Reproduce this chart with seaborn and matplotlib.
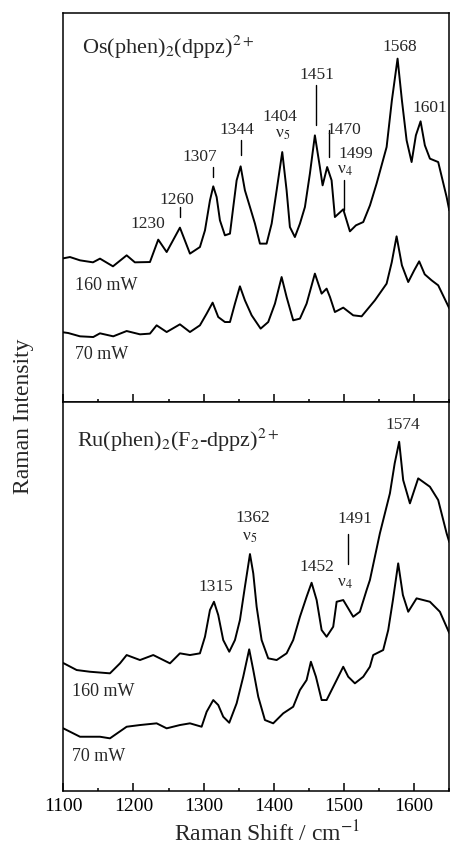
import pandas as pd
import matplotlib
matplotlib.use('Agg')
import matplotlib.pyplot as plt
import seaborn as sns
from matplotlib.ticker import MultipleLocator

# Values (x in cm-1, y in arbitrary units)
os_160_x = [1100, 1109.5, 1123.8, 1142.3, 1152.3, 1170.8, 1190.3, 1202, 1223.5, 1235.3,
            1247.3, 1266.2, 1280.5, 1294.7, 1301.9, 1309, 1313.7, 1318.5, 1323.2, 1330.3,
            1337.5, 1342.2, 1347, 1352.7, 1358.8, 1366, 1373.1, 1380.2, 1389.7, 1396.9,
            1404, 1412, 1418.2, 1422.9, 1430, 1437.2, 1444.3, 1451.4, 1458.5, 1465.6,
            1469.5, 1476, 1482.3, 1487, 1498.9, 1508.4, 1517, 1527.4, 1537, 1546.4,
            1560.7, 1568.2, 1576.3, 1582.5, 1589.2, 1596.3, 1602.4, 1609.1, 1615.2, 1622.4,
            1634.2, 1646.2, 1650]
os_160_y = [144, 145.3, 142, 140, 143.7, 136, 147, 140, 140.3, 162.7,
            150.3, 174.7, 148.7, 155.3, 172, 202, 216, 205.3, 182, 167,
            168.7, 195.3, 222, 236, 212, 195.3, 178.7, 158.7, 158.7, 178.7,
            212, 250.3, 212, 175.3, 165.3, 178.7, 195.3, 228.7, 267, 235.3,
            217, 235.3, 222, 185.3, 193, 171, 177, 180.3, 197, 218.7,
            255.3, 302, 343.7, 302, 262, 240.3, 267, 281, 257, 243.7,
            240.3, 205.3, 192]

os_70_x = [1100, 1107.1, 1123.8, 1142.7, 1152.3, 1171.2, 1190.3, 1209.3, 1223.5, 1233,
           1247.3, 1266.2, 1280.5, 1294.7, 1304.3, 1312.8, 1320.8, 1330.3, 1337.5, 1344.6,
           1351.7, 1358.8, 1368.4, 1381.2, 1392, 1401.6, 1411.1, 1418.2, 1427.6, 1437.2,
           1446.7, 1458.5, 1468.1, 1475.2, 1480, 1487, 1498.9, 1513.1, 1525.1, 1544,
           1560.7, 1568, 1574.9, 1582.5, 1591.5, 1600, 1607.1, 1615, 1624.8, 1634.2,
           1650]
os_70_y = [70, 69.3, 66, 65.3, 69, 66, 71.3, 68, 68.7, 77,
           70.3, 78, 70.3, 77, 88.7, 99.7, 85.3, 80.3, 80.3, 98.7,
           116, 102, 87, 73.7, 80.3, 98.7, 125.3, 105.3, 82, 83.7,
           98.7, 128.7, 108.7, 113.7, 105.3, 90.3, 94.7, 87, 86, 102,
           118.7, 140, 166, 137, 120.3, 132, 141, 128, 122, 117,
           94]

ru_160_x = [1100, 1119.1, 1138, 1166.5, 1180.8, 1190.3, 1209.3, 1228.2, 1252, 1266.2,
            1280.5, 1294.7, 1301.9, 1309, 1314.7, 1320.8, 1327.9, 1336.5, 1344.6, 1351.7,
            1358.8, 1366, 1370.7, 1375.5, 1382.6, 1392, 1404, 1418.2, 1427.6, 1437.2,
            1446.7, 1453.8, 1461, 1468.1, 1475.2, 1484.6, 1489.5, 1498.9, 1506, 1513.1,
            1522.6, 1532.2, 1536.9, 1551.1, 1565.4, 1572.2, 1578.6, 1584.3, 1593.9, 1605.7,
            1622.4, 1634.2, 1646.2, 1650]
ru_160_y = [128, 121, 119.3, 117.7, 127.7, 136, 131, 136, 127.7, 137.7,
            136, 137.7, 154.3, 181, 189.3, 176, 151, 139.3, 151, 171,
            204.3, 237, 217.7, 184.3, 151, 132.7, 131, 137.7, 151, 174.3,
            194.3, 208.3, 191, 161, 154.3, 164.3, 189.3, 191, 182.7, 174.3,
            179.3, 201, 211, 257.7, 297.7, 327.7, 349.3, 311, 287.7, 312.7,
            304.3, 291, 257.7, 249]

ru_70_x = [1100, 1123.8, 1152.3, 1166.5, 1190.3, 1209.3, 1233, 1247.3, 1266.2, 1280.5,
           1297.1, 1304.3, 1313.7, 1320.8, 1327.9, 1336.5, 1347, 1356.4, 1364.9, 1370.7,
           1377.8, 1387.3, 1399.1, 1413.4, 1427.6, 1437.2, 1446.7, 1452.8, 1460, 1468.1,
           1475.2, 1489.5, 1498.9, 1506, 1515.5, 1527.4, 1536.9, 1541.6, 1555.8, 1563,
           1569.7, 1577.2, 1583.9, 1591.5, 1603.4, 1622.4, 1636.6, 1650]
ru_70_y = [62.7, 54.3, 54.3, 52.7, 64.3, 66, 67.7, 62.7, 66, 67.7,
           64.3, 79.3, 91, 86, 74.3, 68.3, 87.7, 114.3, 141.7, 121,
           94.3, 71, 67.7, 77.7, 84.3, 101, 111, 129.3, 114.3, 91,
           91, 111, 124.3, 114.3, 107.7, 114.3, 124.3, 136, 141, 161,
           191, 227.7, 196, 179.3, 192.7, 189.3, 179.3, 158]

# peak labels: (text, x, y)
os_labels = [('1568', 1579.6, 355), ('1601', 1622.3, 294.7), ('1451', 1461, 327),
             ('1470', 1500, 272), ('1404', 1408.7, 285.3), ('ν$_5$', 1413, 268.7),
             ('1344', 1347, 272.7), ('1307', 1294.7, 245.3), ('1499', 1517, 248),
             ('ν$_4$', 1501.3, 232), ('1260', 1261.5, 202), ('1230', 1221, 178.7)]
# marker lines: (x, y0, y1)
os_marks = [(1460, 277, 317), (1478, 245.3, 272), (1352.7, 247, 262),
            (1313.7, 225.3, 235.3), (1499.9, 192, 222), (1266.2, 185, 195)]

ru_labels = [('1574', 1584, 366), ('1362', 1369.8, 273.3), ('ν$_5$', 1366, 254.3),
             ('1491', 1515.5, 271.7), ('ν$_4$', 1501, 207.7), ('1452', 1461, 224.3),
             ('1315', 1317, 203.7)]
ru_marks = [(1505, 227, 256.7)]

sns.set_theme(style='white')
plt.rcParams['font.family'] = ['Liberation Serif', 'DejaVu Serif']
plt.rcParams['mathtext.fontset'] = 'stix'

fig = plt.figure(figsize=(4.52, 8.56), dpi=100)
ax_top = fig.add_axes([0.140, 0.530, 0.854, 0.4544])
ax_bot = fig.add_axes([0.140, 0.0759, 0.854, 0.4544], sharex=ax_top)

panels = [
    (ax_top, os_160_x, os_160_y, os_70_x, os_70_y, os_labels, os_marks,
     r'Os(phen)$_2$(dppz)$^{2+}$', 1126, 355, 1116.7, 117, 48),
    (ax_bot, ru_160_x, ru_160_y, ru_70_x, ru_70_y, ru_labels, ru_marks,
     r'Ru(phen)$_2$(F$_2$-dppz)$^{2+}$', 1119, 351, 1112, 99.3, 35),
]

for ax, x1, y1, x2, y2, labels, marks, title, tx, ty, mx, my1, my2 in panels:
    df1 = pd.DataFrame({'shift': x1, 'intensity': y1})
    df2 = pd.DataFrame({'shift': x2, 'intensity': y2})
    sns.lineplot(data=df1, x='shift', y='intensity', ax=ax, color='black',
                 lw=1.4, sort=False, estimator=None)
    sns.lineplot(data=df2, x='shift', y='intensity', ax=ax, color='black',
                 lw=1.4, sort=False, estimator=None)
    for txt, lx, ly in labels:
        ax.text(lx, ly, txt, ha='center', va='center', fontsize=12.5)
    for mxx, m0, m1 in marks:
        ax.plot([mxx, mxx], [m0, m1], color='black', lw=1)
    ax.text(tx, ty, title, ha='left', va='center', fontsize=16)
    ax.text(mx, my1, '160 mW', ha='left', va='center', fontsize=13)
    ax.text(mx, my2, '70 mW', ha='left', va='center', fontsize=13)
    ax.set_ylim(0, 389)
    ax.set_yticks([])
    ax.set_ylabel('')
    ax.set_xlabel('')
    for sp in ax.spines.values():
        sp.set_color('black')
        sp.set_linewidth(1.1)
    ax.tick_params(axis='x', which='both', direction='in', bottom=True, top=False,
                   color='black', width=1.1)
    ax.tick_params(axis='x', which='major', length=6)
    ax.tick_params(axis='x', which='minor', length=2.5)

ax_bot.set_xlim(1100, 1650)
ax_bot.xaxis.set_major_locator(MultipleLocator(100))
ax_bot.xaxis.set_minor_locator(MultipleLocator(50))
ax_top.tick_params(axis='x', labelbottom=False)
ax_bot.tick_params(axis='x', labelsize=14, pad=5, labelcolor='black')

fig.text(0.59, 0.011, r'Raman Shift / cm$^{-1}$', ha='center', va='bottom', fontsize=17)
fig.text(0.053, 0.514, 'Raman Intensity', ha='center', va='center',
         rotation=90, fontsize=17)

fig.savefig('out.png', dpi=100, facecolor='white')
